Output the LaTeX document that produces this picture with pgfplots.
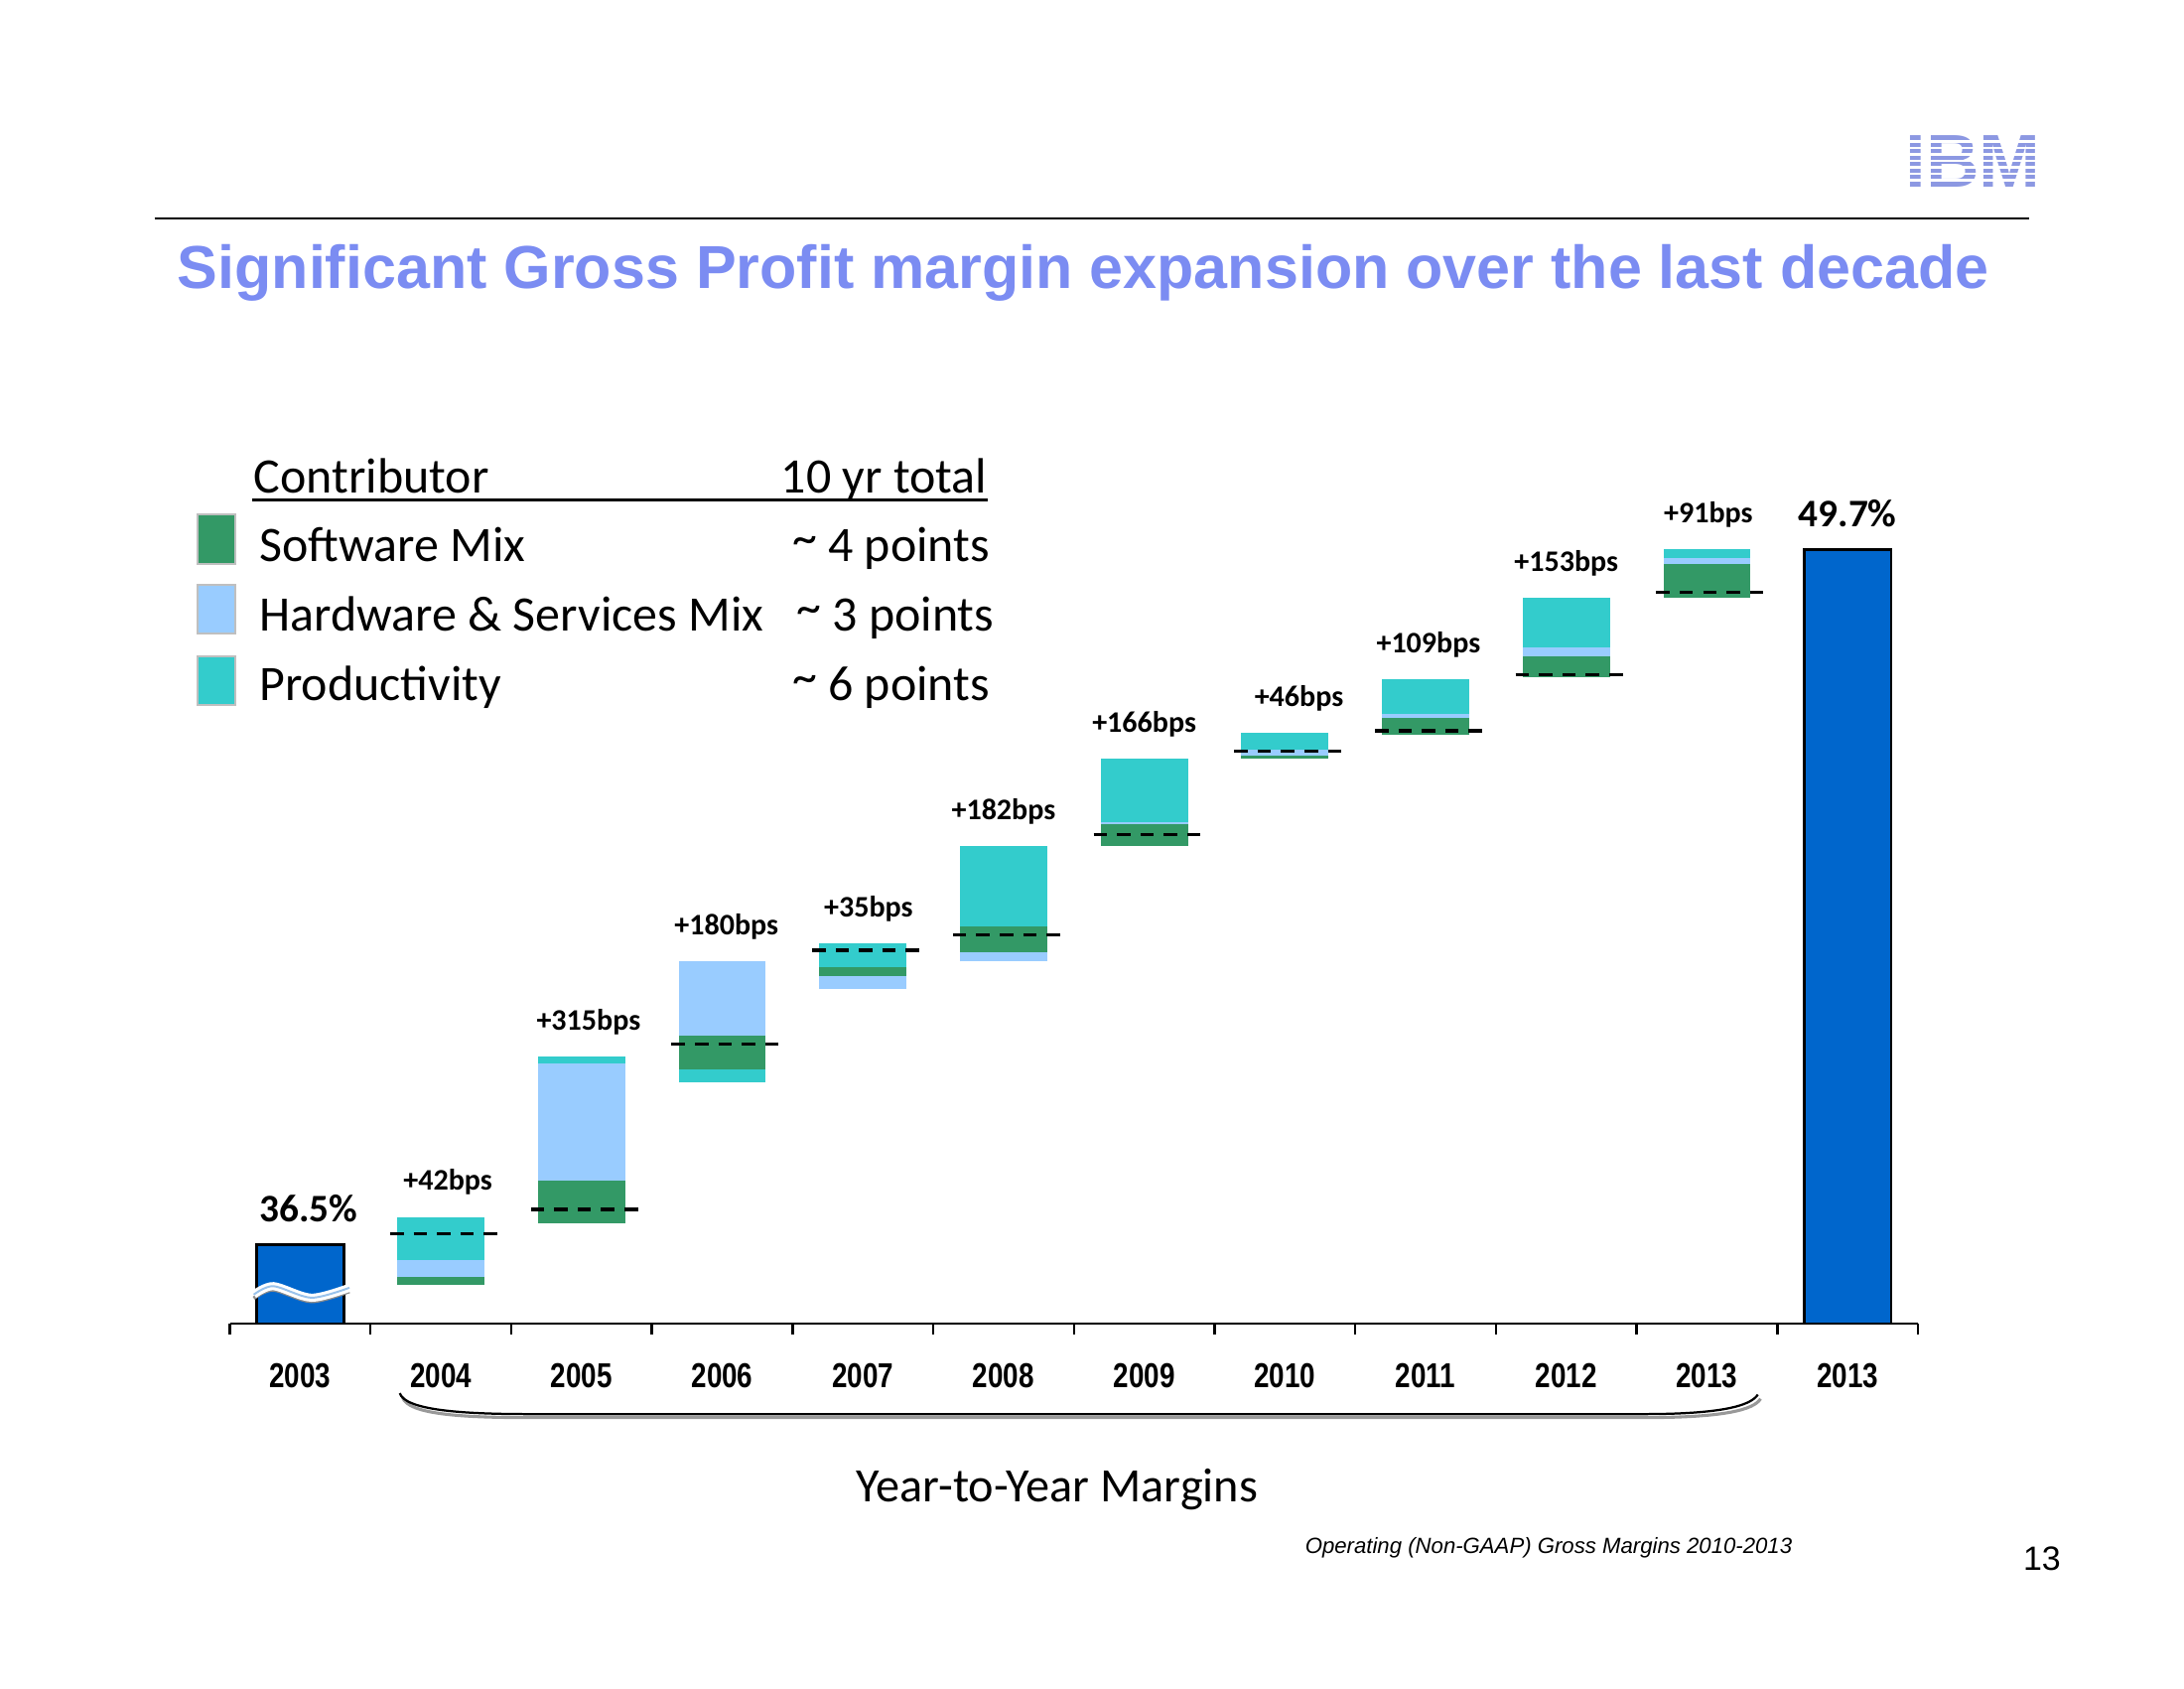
\documentclass[border=0pt]{standalone}
\usepackage{pgfplots}
\pgfplotsset{compat=1.18}
\usepackage{fontspec}
\setmainfont{Liberation Sans}
\newfontfamily\calibri{Carlito}
\newfontfamily\narrow[FakeStretch=0.8]{Liberation Sans}
\definecolor{ibmblue}{HTML}{0066CC}
\definecolor{swgreen}{HTML}{339966}
\definecolor{hwblue}{HTML}{99CCFF}
\definecolor{prodteal}{HTML}{33CCCC}
\definecolor{titleblue}{HTML}{7B8CF2}
\definecolor{logoblue}{HTML}{8C98E2}
\begin{document}
\begin{tikzpicture}
\begin{scope}[x=0.5pt,y=-0.5pt]
\useasboundingbox (0,0) rectangle (1568,1212);
% IBM logo
\node[text=logoblue, inner sep=0pt] at (1416.5,115.5) {\resizebox{48.5pt}{18.5pt}{\bfseries IBM}};
\foreach \k in {1,...,7} {\draw[white, line width=0.8pt] (1362,97+4.62*\k) -- (1470,97+4.62*\k);}
% rule and title
\draw[line width=0.8pt] (111,157) -- (1457,157);
\node[anchor=base west, inner sep=0pt, text=titleblue, font=\bfseries\fontsize{21.75}{24}\selectfont] at (127,207) {Significant Gross Profit margin expansion over the last decade};
% legend
\node[anchor=base west, inner sep=0pt, font=\calibri\fontsize{17.8}{20}\selectfont] at (182,354) {Contributor};
\node[anchor=base east, inner sep=0pt, font=\calibri\fontsize{17.8}{20}\selectfont] at (709,354) {10 yr total};
\draw[line width=1pt] (181,359) -- (709,359);
\draw[draw=black!25, line width=0.7pt, fill=swgreen] (142,369) rectangle (169,405);
\draw[draw=black!25, line width=0.7pt, fill=hwblue] (142,420) rectangle (169,455);
\draw[draw=black!25, line width=0.7pt, fill=prodteal] (142,471) rectangle (169,506);
\node[anchor=base west, inner sep=0pt, font=\calibri\fontsize{17.8}{20}\selectfont] at (186,403) {Software Mix};
\node[anchor=base west, inner sep=0pt, font=\calibri\fontsize{17.8}{20}\selectfont] at (186,453) {Hardware \& Services Mix};
\node[anchor=base west, inner sep=0pt, font=\calibri\fontsize{17.8}{20}\selectfont] at (186,503) {Productivity};
\node[anchor=base east, inner sep=0pt, font=\calibri\fontsize{17.8}{20}\selectfont] at (711,403) {\raisebox{2.5pt}{\char"007E}\ 4 points};
\node[anchor=base east, inner sep=0pt, font=\calibri\fontsize{17.8}{20}\selectfont] at (714,453) {\raisebox{2.5pt}{\char"007E}\ 3 points};
\node[anchor=base east, inner sep=0pt, font=\calibri\fontsize{17.8}{20}\selectfont] at (711,503) {\raisebox{2.5pt}{\char"007E}\ 6 points};
% brace under 2004-2013
\draw[black!40, line width=1.1pt] (289,1003) .. controls (293,1015) and (330,1017.5) .. (380,1017.5) -- (1180,1017.5) .. controls (1238,1017.5) and (1259,1012) .. (1264,1004);
\draw[black, line width=0.8pt] (287,1000) .. controls (291,1012) and (330,1015) .. (380,1015) -- (1180,1015) .. controls (1236,1015) and (1257,1009) .. (1262,1001);
% bottom texts
\node[anchor=base, inner sep=0pt, font=\calibri\fontsize{17.2}{20}\selectfont] at (759,1078) {Year-to-Year Margins};
\node[anchor=base east, inner sep=0pt, font=\itshape\fontsize{7.9}{9}\selectfont] at (1287,1115) {Operating (Non-GAAP) Gross Margins 2010-2013};
\node[anchor=base, inner sep=0pt, font=\fontsize{12.1}{14}\selectfont] at (1466,1127) {13};
\end{scope}

\begin{axis}[
  at={(82.5pt,-475pt)}, anchor=south west,
  scale only axis, width=606pt, height=321.3pt,
  xmin=-0.5, xmax=11.5, ymin=35, ymax=52,
  clip=false,
  axis x line*=bottom, axis y line=none,
  x axis line style={-, line width=0.9pt, black},
  xtick={0,...,11},
  xticklabels={2003,2004,2005,2006,2007,2008,2009,2010,2011,2012,2013,2013},
  major tick length=0pt,
  minor xtick={-0.5,0.5,...,11.5},
  minor tick length=4pt,
  tick align=outside,
  tick style={black, line width=0.9pt},
  xticklabel style={font=\narrow\bfseries\fontsize{12.4}{14}\selectfont, inner sep=0pt, anchor=north, yshift=-14pt},
]
% Software Mix segments
\addplot[draw=swgreen, line width=31.3pt, line cap=butt, unbounded coords=jump] coordinates {
(1,35.735) (1,35.878) (1,nan)
(2,36.905) (2,37.709) (2,nan)
(3,39.825) (3,40.460) (3,nan)
(4,41.593) (4,41.762) (4,nan)
(5,42.045) (5,42.534) (5,nan)
(6,44.069) (6,44.476) (6,nan)
(7,45.728) (7,45.778) (7,nan)
(8,46.175) (8,46.495) (8,nan)
(9,47.275) (9,47.664) (9,nan)
(10,48.783) (10,49.418)
};
% Hardware & Services Mix segments
\addplot[draw=hwblue, line width=31.3pt, line cap=butt, unbounded coords=jump] coordinates {
(1,35.878) (1,36.201) (1,nan)
(2,37.709) (2,39.934) (2,nan)
(3,40.460) (3,41.876) (3,nan)
(4,41.347) (4,41.593) (4,nan)
(5,41.876) (5,42.045) (5,nan)
(6,44.476) (6,44.516) (6,nan)
(7,45.778) (7,45.897) (7,nan)
(8,46.495) (8,46.571) (8,nan)
(9,47.664) (9,47.833) (9,nan)
(10,49.418) (10,49.532)
};
% Productivity segments
\addplot[draw=prodteal, line width=31.3pt, line cap=butt, unbounded coords=jump] coordinates {
(1,36.201) (1,37.024) (1,nan)
(2,39.934) (2,40.066) (2,nan)
(3,39.577) (3,39.825) (3,nan)
(4,41.762) (4,42.214) (4,nan)
(5,42.534) (5,44.063) (5,nan)
(6,44.516) (6,45.722) (6,nan)
(7,45.897) (7,46.212) (7,nan)
(8,46.571) (8,47.230) (8,nan)
(9,47.833) (9,48.778) (9,nan)
(10,49.532) (10,49.706)
};
% start / end totals
\addplot[fill=ibmblue, draw=black, line width=0.9pt] coordinates {(-0.31,35) (0.31,35) (0.31,36.5) (-0.31,36.5)} -- cycle;
\addplot[fill=ibmblue, draw=black, line width=0.9pt] coordinates {(10.69,35) (11.31,35) (11.31,49.7) (10.69,49.7)} -- cycle;
% break symbol on first bar
\draw[black!45, line width=1.3pt] plot[smooth] coordinates {(-0.33,35.48) (-0.19,35.64) (0.08,35.42) (0.35,35.61)};
\draw[white, line width=1.1pt, double=ibmblue!40!white, double distance=0.7pt] plot[smooth] coordinates {(-0.33,35.55) (-0.19,35.71) (0.08,35.49) (0.35,35.68)};
% dashed reference lines
\addplot[black, line width=1.2pt, dash pattern=on 4.8pt off 3.6pt, unbounded coords=jump] coordinates {
(0.64,36.709) (1.41,36.709) (1.41,nan)
(1.64,37.169) (2.41,37.169) (2.41,nan)
(2.64,40.304) (3.41,40.304) (3.41,nan)
(3.64,42.085) (4.41,42.085) (4.41,nan)
(4.64,42.381) (5.41,42.381) (5.41,nan)
(5.64,44.288) (6.41,44.288) (6.41,nan)
(6.64,45.868) (7.41,45.868) (7.41,nan)
(7.64,46.257) (8.41,46.257) (8.41,nan)
(8.64,47.323) (9.41,47.323) (9.41,nan)
(9.64,48.884) (10.41,48.884)
};
% change labels
\addplot[draw=none, nodes near coords, point meta=explicit symbolic,
  every node near coord/.append style={font=\calibri\bfseries\fontsize{10.7}{12}\selectfont, anchor=base, yshift=9.5pt, inner sep=0pt, text=black}]
coordinates {
(1.05,37.024) [+42bps]
(2.05,40.066) [+315bps]
(3.03,41.876) [+180bps]
(4.04,42.214) [+35bps]
(5,44.063) [+182bps]
(6,45.722) [+166bps]
(7.1,46.212) [+46bps]
(8.02,47.230) [+109bps]
(9,48.778) [+153bps]
(10.01,49.706) [+91bps]
};
\addplot[draw=none, nodes near coords, point meta=explicit symbolic,
  every node near coord/.append style={font=\calibri\bfseries\fontsize{14}{16}\selectfont, anchor=base, yshift=8pt, inner sep=0pt, text=black}]
coordinates {
(0.06,36.5) [36.5\%]
(11,49.7) [49.7\%]
};
\end{axis}
\end{tikzpicture}
\end{document}
